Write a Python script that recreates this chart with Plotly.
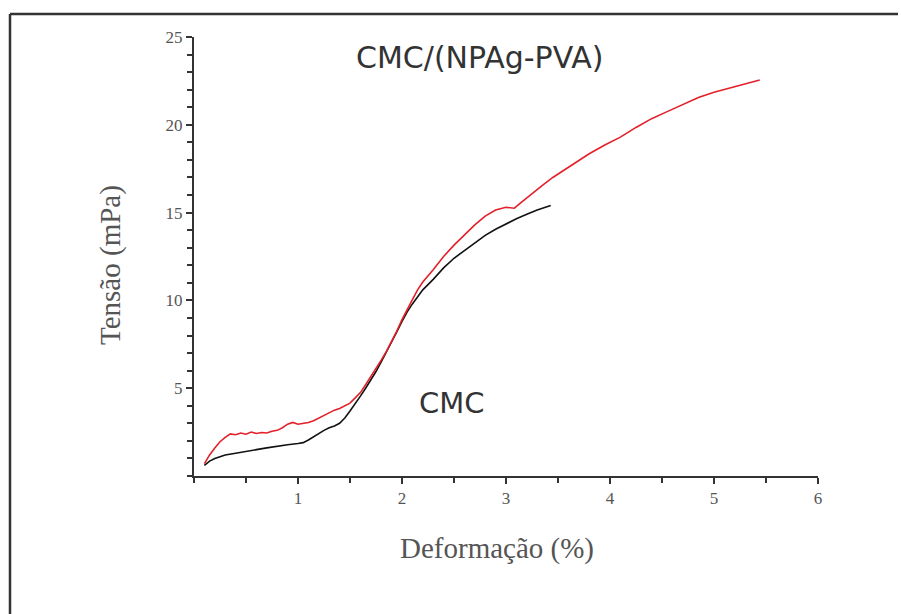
import plotly.graph_objects as go

# Data
red_name = "CMC/(NPAg-PVA)"
red_x = [0.10, 0.15, 0.20, 0.25, 0.30, 0.35, 0.40, 0.45, 0.50, 0.55, 0.60, 0.65, 0.70, 0.75,
         0.80, 0.85, 0.90, 0.95, 1.00, 1.05, 1.10, 1.15, 1.20, 1.25, 1.30, 1.35, 1.40, 1.45,
         1.50, 1.55, 1.60, 1.65, 1.70, 1.75, 1.80, 1.85, 1.90, 1.95, 2.00, 2.05, 2.10, 2.15,
         2.20, 2.30, 2.40, 2.50, 2.60, 2.70, 2.80, 2.90, 3.00, 3.08, 3.15, 3.25, 3.35, 3.45,
         3.55, 3.65, 3.80, 3.95, 4.10, 4.25, 4.40, 4.55, 4.70, 4.85, 5.00, 5.15, 5.30, 5.44]
red_y = [0.70, 1.20, 1.60, 1.95, 2.20, 2.40, 2.35, 2.45, 2.38, 2.50, 2.42, 2.48, 2.45, 2.55,
         2.60, 2.75, 2.95, 3.05, 2.95, 3.00, 3.05, 3.15, 3.30, 3.45, 3.60, 3.75, 3.85, 4.00,
         4.15, 4.45, 4.75, 5.20, 5.65, 6.10, 6.60, 7.10, 7.65, 8.25, 8.90, 9.50, 10.05, 10.60,
         11.05, 11.75, 12.50, 13.15, 13.75, 14.30, 14.80, 15.15, 15.30, 15.25, 15.60, 16.10, 16.55, 17.00,
         17.40, 17.80, 18.35, 18.85, 19.30, 19.85, 20.35, 20.75, 21.15, 21.55, 21.85, 22.10, 22.35, 22.55]

black_name = "CMC"
black_x = [0.10, 0.15, 0.20, 0.25, 0.30, 0.40, 0.50, 0.60, 0.70, 0.80, 0.90, 1.00, 1.05, 1.10,
           1.15, 1.20, 1.25, 1.30, 1.35, 1.40, 1.45, 1.50, 1.55, 1.60, 1.65, 1.70, 1.75, 1.80,
           1.85, 1.90, 1.95, 2.00, 2.05, 2.10, 2.20, 2.30, 2.40, 2.50, 2.60, 2.70, 2.80, 2.90,
           3.00, 3.10, 3.20, 3.30, 3.43]
black_y = [0.60, 0.85, 1.00, 1.10, 1.20, 1.30, 1.38, 1.50, 1.60, 1.70, 1.78, 1.85, 1.90, 2.05,
           2.25, 2.45, 2.60, 2.75, 2.85, 3.00, 3.30, 3.70, 4.10, 4.55, 5.00, 5.45, 5.95, 6.50,
           7.05, 7.60, 8.20, 8.80, 9.35, 9.80, 10.60, 11.20, 11.85, 12.40, 12.85, 13.30, 13.70, 14.05,
           14.35, 14.65, 14.90, 15.15, 15.40]

x_ticks = [1, 2, 3, 4, 5, 6]
y_ticks = [5, 10, 15, 20, 25]
x_title = "Deformação (%)"
y_title = "Tensão (mPa)"

fig = go.Figure()
fig.add_trace(go.Scatter(x=black_x, y=black_y, mode="lines", name=black_name,
                         line=dict(color="#111111", width=1.6)))
fig.add_trace(go.Scatter(x=red_x, y=red_y, mode="lines", name=red_name,
                         line=dict(color="#e3202a", width=1.6)))

serif = "Liberation Serif, Times New Roman, serif"
sans = "DejaVu Sans, Open Sans, sans-serif"

fig.update_layout(
    width=901, height=614,
    margin=dict(l=194, r=83, t=37, b=138),
    paper_bgcolor="white", plot_bgcolor="white",
    showlegend=False,
    xaxis=dict(range=[0, 6], tickvals=x_ticks, ticktext=[str(v) for v in x_ticks],
               showgrid=False, zeroline=False, showline=True, linecolor="#333333", linewidth=2,
               ticks="outside", ticklen=6, tickwidth=1.5, tickcolor="#333333",
               minor=dict(dtick=0.5, tick0=0, ticks="outside", ticklen=5, tickwidth=1.5, tickcolor="#333333"),
               tickfont=dict(family=serif, size=17, color="#555555")),
    yaxis=dict(range=[0, 25], tickvals=y_ticks, ticktext=[str(v) for v in y_ticks],
               showgrid=False, zeroline=False, showline=True, linecolor="#333333", linewidth=2,
               ticks="outside", ticklen=6, tickwidth=1.5, tickcolor="#333333",
               minor=dict(dtick=1, tick0=0, ticks="outside", ticklen=5, tickwidth=1.5, tickcolor="#333333"),
               tickfont=dict(family=serif, size=17, color="#555555")),
)

# Outer frame: only the top and left edges are visible in the reference
fx0 = (10 - 194) / 624
fy1 = (476 - 14) / 439
frame_line = dict(color="#333333", width=2.5)
fig.add_shape(type="line", xref="paper", yref="paper", x0=fx0, x1=(898 - 194) / 624,
              y0=fy1, y1=fy1, line=frame_line, layer="below")
fig.add_shape(type="line", xref="paper", yref="paper", x0=fx0, x1=fx0,
              y0=fy1, y1=(476 - 614) / 439, line=frame_line, layer="below")

fig.add_annotation(text=x_title, xref="paper", yref="paper", xanchor="center", yanchor="middle",
                   x=(497 - 194) / 624, y=(476 - 548) / 439, showarrow=False,
                   font=dict(family=serif, size=29, color="#555555"))
fig.add_annotation(text=y_title, xref="paper", yref="paper", textangle=-90,
                   xanchor="center", yanchor="middle",
                   x=(110 - 194) / 624, y=(476 - 265) / 439, showarrow=False,
                   font=dict(family=serif, size=29, color="#555555"))
fig.add_annotation(text=red_name, xref="paper", yref="paper", xanchor="center", yanchor="middle",
                   x=(480 - 194) / 624, y=(476 - 58) / 439, showarrow=False,
                   font=dict(family=sans, size=30, color="#333333"))
fig.add_annotation(text=black_name, xref="paper", yref="paper", xanchor="center", yanchor="middle",
                   x=(452 - 194) / 624, y=(476 - 403) / 439, showarrow=False,
                   font=dict(family=sans, size=29, color="#333333"))

fig.write_html("out.html")
